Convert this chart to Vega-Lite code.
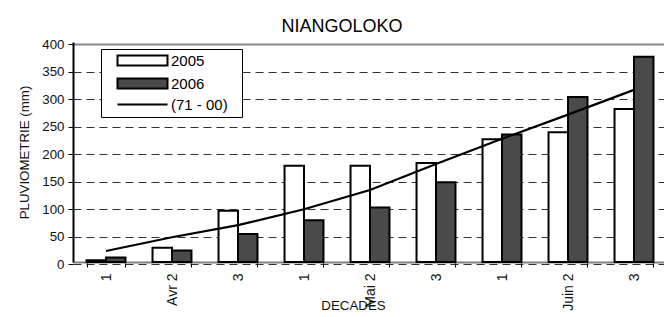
{
  "$schema": "https://vega.github.io/schema/vega-lite/v6.json",
  "autosize": "none",
  "padding": {"left": 73, "top": 42, "right": 0, "bottom": 55},
  "width": 594,
  "height": 220,
  "background": "white",
  "config": {
    "font": "Liberation Sans",
    "view": {"stroke": null},
    "axis": {"labelFont": "Liberation Sans", "titleFont": "Liberation Sans", "labelColor": "#111", "titleColor": "#111", "titleFontWeight": "normal", "labelFontSize": 13.3, "titleFontSize": 13.3, "tickColor": "black"}
  },
  "title": {"text": "NIANGOLOKO", "fontSize": 18, "fontWeight": "normal", "font": "Liberation Sans", "color": "black", "dx": -28, "offset": 1},
  "data": {"values": [
    {"dec": "Avr 1", "series": "2005", "value": 3},
    {"dec": "Avr 2", "series": "2005", "value": 26},
    {"dec": "Avr 3", "series": "2005", "value": 93},
    {"dec": "Mai 1", "series": "2005", "value": 175},
    {"dec": "Mai 2", "series": "2005", "value": 175},
    {"dec": "Mai 3", "series": "2005", "value": 180},
    {"dec": "Juin 1", "series": "2005", "value": 223},
    {"dec": "Juin 2", "series": "2005", "value": 236},
    {"dec": "Juin 3", "series": "2005", "value": 278},
    {"dec": "Avr 1", "series": "2006", "value": 8},
    {"dec": "Avr 2", "series": "2006", "value": 21},
    {"dec": "Avr 3", "series": "2006", "value": 51},
    {"dec": "Mai 1", "series": "2006", "value": 76},
    {"dec": "Mai 2", "series": "2006", "value": 99},
    {"dec": "Mai 3", "series": "2006", "value": 145},
    {"dec": "Juin 1", "series": "2006", "value": 232},
    {"dec": "Juin 2", "series": "2006", "value": 300},
    {"dec": "Juin 3", "series": "2006", "value": 373},
    {"dec": "Avr 1", "series": "(71 - 00)", "value": 20},
    {"dec": "Avr 2", "series": "(71 - 00)", "value": 45},
    {"dec": "Avr 3", "series": "(71 - 00)", "value": 67},
    {"dec": "Mai 1", "series": "(71 - 00)", "value": 96},
    {"dec": "Mai 2", "series": "(71 - 00)", "value": 131},
    {"dec": "Mai 3", "series": "(71 - 00)", "value": 178},
    {"dec": "Juin 1", "series": "(71 - 00)", "value": 224},
    {"dec": "Juin 2", "series": "(71 - 00)", "value": 268},
    {"dec": "Juin 3", "series": "(71 - 00)", "value": 313}
  ]},
  "encoding": {
    "x": {
      "field": "dec", "type": "nominal", "sort": null,
      "scale": {"paddingInner": 0.41, "paddingOuter": 0.205},
      "axis": {
        "title": "DECADES", "titleX": 280, "titleY": 36, "titleBaseline": "top", "titleAlign": "center",
        "labelAngle": -90, "labelPadding": 6, "labelFontSize": 14, "tickSize": 5, "tickBand": "extent",
        "domainColor": "#808080", "domainWidth": 2,
        "labelExpr": "split(datum.value, ' ')[1] == '2' ? datum.value : split(datum.value, ' ')[1]"
      }
    },
    "y": {
      "field": "value", "type": "quantitative",
      "scale": {"domain": [0, 400], "nice": false},
      "axis": {
        "title": "PLUVIOMETRIE (mm)", "values": [0, 50, 100, 150, 200, 250, 300, 350, 400],
        "tickSize": 5, "tickOffset": 2, "labelPadding": 4, "titlePadding": 10, "domainColor": "black", "domainWidth": 2,
        "grid": true,
        "gridColor": {"condition": {"test": "datum.value === 400", "value": "#888"}, "value": "#333"},
        "gridDash": {"condition": {"test": "datum.value === 400", "value": []}, "value": [8, 5]},
        "gridWidth": {"condition": {"test": "datum.value === 400", "value": 2}, "value": 1}
      }
    }
  },
  "layer": [
    {
      "transform": [{"filter": "datum.series !== '(71 - 00)'"}],
      "mark": {"type": "bar", "stroke": "black", "strokeWidth": 2},
      "encoding": {
        "xOffset": {"field": "series", "type": "nominal", "scale": {"domain": ["2005", "2006"]}},
        "color": {
          "field": "series", "type": "nominal",
          "scale": {"domain": ["2005", "2006", "(71 - 00)"], "range": ["white", "#4a4a4a", "black"]},
          "legend": {
            "title": "\u00a0", "titleOrient": "right", "titlePadding": 10, "titleFontSize": 4,
            "orient": "none", "legendX": 28, "legendY": 7,
            "labelFontSize": 15, "labelFont": "Liberation Sans", "labelColor": "black",
            "symbolSize": 100, "labelOffset": 51, "rowPadding": 4,
            "symbolStrokeColor": "black", "symbolStrokeWidth": 2,
            "strokeColor": "black", "fillColor": "white", "padding": 4,
            "encode": {
              "symbols": {"update": {
                "shape": {"signal": "datum.value === '(71 - 00)' ? 'M1,0H11' : 'M1,-1H11V1H1Z'"},
                "fill": {"scale": "color", "field": "value"},
                "stroke": {"value": "black"},
                "strokeWidth": {"value": 2},
                "opacity": {"value": 1}
              }}
            }
          }
        }
      }
    },
    {
      "transform": [{"filter": "datum.series === '(71 - 00)'"}],
      "mark": {"type": "line", "strokeWidth": 2.2, "color": "black"}
    }
  ]
}
